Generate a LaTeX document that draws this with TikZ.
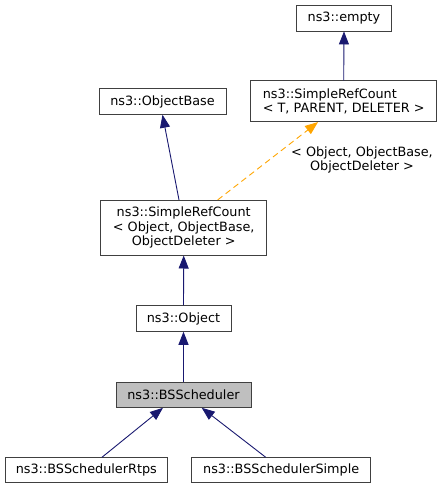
\documentclass[tikz,border=0pt]{standalone}
\usepackage{fontspec}
\setmainfont{DejaVu Sans}
\usetikzlibrary{arrows.meta}
\definecolor{edgeblue}{HTML}{191970}
\definecolor{tmplorange}{HTML}{FFA500}
\definecolor{boxgray}{HTML}{BFBFBF}
\definecolor{boxline}{HTML}{404040}
\begin{document}
\begin{tikzpicture}[x=1pt, y=-1pt,
    cls/.style={draw=boxline, line width=0.9pt, fill=white, inner sep=0pt,
      font=\fontsize{12.8}{14.3}\selectfont},
    inh/.style={draw=edgeblue, line width=0.9pt, -{Triangle[length=13pt,width=10pt,fill=edgeblue]}},
    tmpl/.style={draw=tmplorange, line width=0.9pt, dash pattern=on 6pt off 4pt, -{Triangle[length=13pt,width=10pt,fill=tmplorange]}}]
  \useasboundingbox (0,0) rectangle (443,489);
  % classes
  \node[cls, minimum width=95pt, minimum height=26pt] (empty) at (344,18) {ns3::empty};
  \node[cls, minimum width=186pt, minimum height=40.7pt, align=left] (srct) at (343.7,101.3)
    {ns3::SimpleRefCount\\< T, PARENT, DELETER >};
  \node[cls, minimum width=127pt, minimum height=25.6pt] (objbase) at (162.5,101.5) {ns3::ObjectBase};
  \node[cls, minimum width=166pt, minimum height=54.7pt, align=center] (srcobj) at (183.7,227.7)
    {ns3::SimpleRefCount\\< Object, ObjectBase,\\ObjectDeleter >};
  \node[cls, minimum width=95pt, minimum height=25.6pt] (object) at (183.5,318.5) {ns3::Object};
  \node[cls, fill=boxgray, minimum width=135pt, minimum height=25.3pt] (bss) at (183.5,394.7) {ns3::BSScheduler};
  \node[cls, minimum width=162.7pt, minimum height=25pt] (rtps) at (86.3,470.2) {ns3::BSSchedulerRtps};
  \node[cls, minimum width=179pt, minimum height=25pt] (simple) at (281.2,470.2) {ns3::BSSchedulerSimple};
  % inheritance
  \draw[inh] (srct.north) -- (empty.south);
  \draw[inh] ([xshift=-4.7pt]srcobj.north) -- (objbase.south);
  \draw[tmpl] ([xshift=34pt]srcobj.north) -- ([xshift=-25.7pt]srct.south);
  \node[font=\fontsize{12.8}{14.3}\selectfont, align=center, inner sep=0pt] (targs) at (362,160)
    {< Object, ObjectBase,\\ObjectDeleter >};
  \draw[inh] (object.north) -- (srcobj.south);
  \draw[inh] (bss.north) -- (object.south);
  \draw[inh] ([xshift=15.7pt]rtps.north) -- ([xshift=-20.5pt]bss.south);
  \draw[inh] ([xshift=-15.5pt]simple.north) -- ([xshift=18.2pt]bss.south);
\end{tikzpicture}
\end{document}
